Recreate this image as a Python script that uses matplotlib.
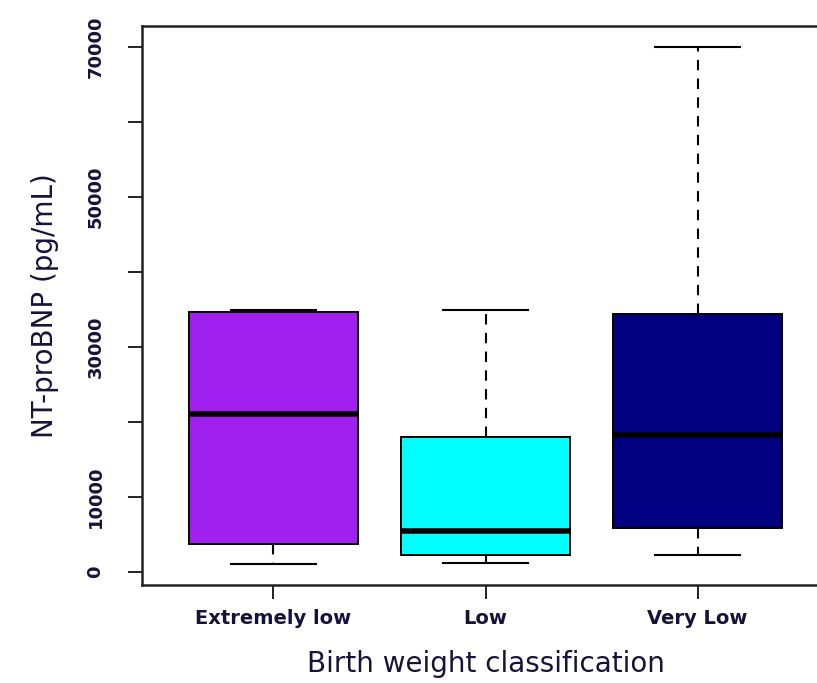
import matplotlib.pyplot as plt

# NT-proBNP by birth weight group (box stats in pg/mL)
groups = ['Extremely low', 'Low', 'Very Low']
whisker_lo = [1000, 1200, 2200]
q1 = [3700, 2200, 5900]
medians = [21000, 5400, 18200]
q3 = [34700, 18000, 34400]
whisker_hi = [34900, 34900, 70000]
colors = ['#A020F0', '#00FFFF', '#000080']

yticks = [0, 10000, 20000, 30000, 40000, 50000, 60000, 70000]
yticklabels = ['0', '10000', '', '30000', '', '50000', '', '70000']

text_col = '#14143a'

fig = plt.figure(figsize=(8.17, 6.83), dpi=100)
# axes runs past the right edge, like the cropped original
ax = fig.add_axes([142/817, (683-585)/683, (829-142)/817, (585-26)/683])

stats = []
for i, g in enumerate(groups):
    stats.append(dict(label=g, whislo=whisker_lo[i], q1=q1[i], med=medians[i],
                      q3=q3[i], whishi=whisker_hi[i], fliers=[]))

bp = ax.bxp(stats, positions=[1, 2, 3], widths=0.8, patch_artist=True,
            showfliers=False,
            boxprops=dict(edgecolor='black', linewidth=1.4),
            medianprops=dict(color='black', linewidth=4, solid_capstyle='butt'),
            whiskerprops=dict(color='black', linewidth=1.5, linestyle=(0, (5, 4))),
            capprops=dict(color='black', linewidth=1.5),
            capwidths=0.4)
for patch, c in zip(bp['boxes'], colors):
    patch.set_facecolor(c)

ax.set_xlim(0.38, 3.62)
ax.set_ylim(-1760, 72760)
ax.set_yticks(yticks)
ax.set_yticklabels(yticklabels, rotation=90, va='center', fontsize=13,
                   color=text_col, fontweight='bold')
ax.set_xticks([1, 2, 3])
ax.set_xticklabels(groups, fontsize=14, color=text_col, fontweight='bold')
ax.tick_params(axis='both', length=10, width=1.4, color='#222222')
ax.tick_params(axis='x', pad=7)
ax.tick_params(axis='y', pad=17)

for s in ax.spines.values():
    s.set_linewidth(1.8)
    s.set_color('#222222')

ax.set_xlabel('Birth weight classification', fontsize=20, color=text_col, labelpad=16)
ax.set_ylabel('NT-proBNP (pg/mL)', fontsize=20, color=text_col, labelpad=20)

fig.savefig('out.png', dpi=100)
